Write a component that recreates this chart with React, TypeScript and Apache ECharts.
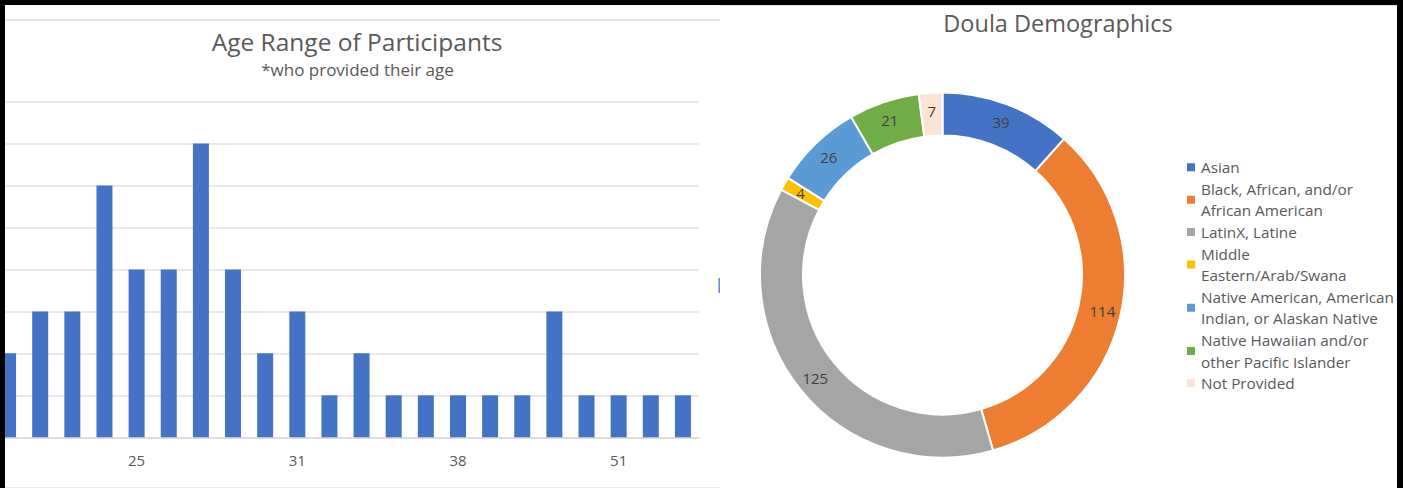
import { useEffect, useRef } from 'react';
import * as echarts from 'echarts';

const FONT = '"Open Sans", "Noto Sans", sans-serif';

// Left chart: age distribution (labels shown every 5th category)
const ages = ['21', '22', '23', '24', '25', '26', '27', '28', '29', '31', '32', '33', '34', '36', '38', '40', '42', '45', '48', '51', '53', '56'];
const ageCounts = [2, 3, 3, 6, 4, 4, 7, 4, 2, 3, 1, 2, 1, 1, 1, 1, 1, 3, 1, 1, 1, 1];

// Right chart: doula demographics
const groups = [
  'Asian',
  'Black, African, and/or African American',
  'LatinX, Latine',
  'Middle Eastern/Arab/Swana',
  'Native American, American Indian, or Alaskan Native',
  'Native Hawaiian and/or other Pacific Islander',
  'Not Provided',
];
const groupCounts = [39, 114, 125, 4, 26, 21, 7];
const groupColors = ['#4472C4', '#ED7D31', '#A5A5A5', '#FFC000', '#5B9BD5', '#70AD47', '#FBE3D6'];
const legendLines = [
  'Asian',
  'Black, African, and/or\nAfrican American',
  'LatinX, Latine',
  'Middle\nEastern/Arab/Swana',
  'Native American, American\nIndian, or Alaskan Native',
  'Native Hawaiian and/or\nother Pacific Islander',
  'Not Provided',
];

export default function App() {
  const leftRef = useRef<HTMLDivElement>(null);
  const rightRef = useRef<HTMLDivElement>(null);

  useEffect(() => {
    const left = echarts.init(leftRef.current!, null, { renderer: 'svg' });
    const right = echarts.init(rightRef.current!, null, { renderer: 'svg' });

    left.setOption({
      animation: false,
      backgroundColor: '#ffffff',
      grid: { left: 0, width: 707, top: 96.5, bottom: 50.7, containLabel: false },
      xAxis: {
        type: 'category',
        data: ages,
        axisTick: { show: false },
        axisLine: { lineStyle: { color: '#d9d9d9', width: 1.5 } },
        axisLabel: {
          interval: (i: number) => i % 5 === 4,
          color: '#595959',
          fontSize: 15,
          fontFamily: FONT,
          margin: 15,
        },
      },
      yAxis: {
        type: 'value',
        min: 0,
        max: 8,
        interval: 1,
        axisLabel: { show: false },
        axisLine: { show: false },
        axisTick: { show: false },
        splitLine: { lineStyle: { color: '#e2e2e2', width: 1.5 } },
      },
      series: [
        {
          type: 'bar',
          data: ageCounts,
          barWidth: 16,
          silent: true,
          itemStyle: { color: '#4472C4' },
        },
      ],
      graphic: [
        { type: 'line', silent: true, shape: { x1: 13, y1: 15, x2: 728, y2: 15 }, style: { stroke: '#e6e6e6', lineWidth: 2 } },
        { type: 'line', silent: true, shape: { x1: 13, y1: 482.5, x2: 728, y2: 482.5 }, style: { stroke: '#eeeeee', lineWidth: 1 } },
        {
          type: 'text',
          x: 365,
          y: 36,
          silent: true,
          style: { text: 'Age Range of Participants', fill: '#595959', fontSize: 24.5, fontFamily: FONT, align: 'center', verticalAlign: 'middle' },
        },
        {
          type: 'text',
          x: 365.5,
          y: 64.4,
          silent: true,
          style: { text: '*who provided their age', fill: '#595959', fontSize: 17, fontFamily: FONT, align: 'center', verticalAlign: 'middle' },
        },
        { type: 'rect', silent: true, shape: { x: 726.5, y: 273, width: 1.3, height: 15 }, style: { fill: '#4472C4' } },
      ],
    });

    right.setOption({
      animation: false,
      backgroundColor: '#ffffff',
      legend: {
        orient: 'vertical',
        left: 465,
        top: 151.5,
        itemWidth: 10,
        itemHeight: 10,
        itemGap: 0,
        padding: 0,
        icon: 'rect',
        selectedMode: false,
        data: groups,
        formatter: (n: string) => legendLines[groups.indexOf(n)],
        textStyle: { color: '#595959', fontSize: 15.3, fontFamily: FONT, lineHeight: 21.6 },
      },
      series: [
        {
          type: 'pie',
          center: [222.5, 270],
          radius: [139.5, 182.5],
          startAngle: 90,
          clockwise: true,
          silent: true,
          avoidLabelOverlap: false,
          label: { show: true, position: 'inside', formatter: '{c}', color: '#404040', fontSize: 15, fontFamily: FONT },
          labelLine: { show: false },
          itemStyle: { borderColor: '#ffffff', borderWidth: 2 },
          data: groups.map((g, i) => ({ name: g, value: groupCounts[i], itemStyle: { color: groupColors[i] } })),
        },
      ],
      graphic: [
        { type: 'line', silent: true, shape: { x1: 0, y1: 0.5, x2: 677, y2: 0.5 }, style: { stroke: '#e0e0e0', lineWidth: 1 } },
        {
          type: 'text',
          x: 338,
          y: 17.8,
          silent: true,
          style: { text: 'Doula Demographics', fill: '#595959', fontSize: 23.5, fontFamily: FONT, align: 'center', verticalAlign: 'middle' },
        },
      ],
    });

    return () => {
      left.dispose();
      right.dispose();
    };
  }, []);

  return (
    <div style={{ position: 'fixed', left: 0, top: 0, width: 1403, height: 488, background: '#000', overflow: 'hidden' }}>
      <div style={{ position: 'absolute', left: 5, top: 5, width: 715, height: 483, background: '#fff', overflow: 'hidden' }}>
        <div ref={leftRef} style={{ position: 'absolute', left: -13, top: 0, width: 728, height: 483 }} />
      </div>
      <div ref={rightRef} style={{ position: 'absolute', left: 720, top: 5, width: 677, height: 483, background: '#fff' }} />
    </div>
  );
}
